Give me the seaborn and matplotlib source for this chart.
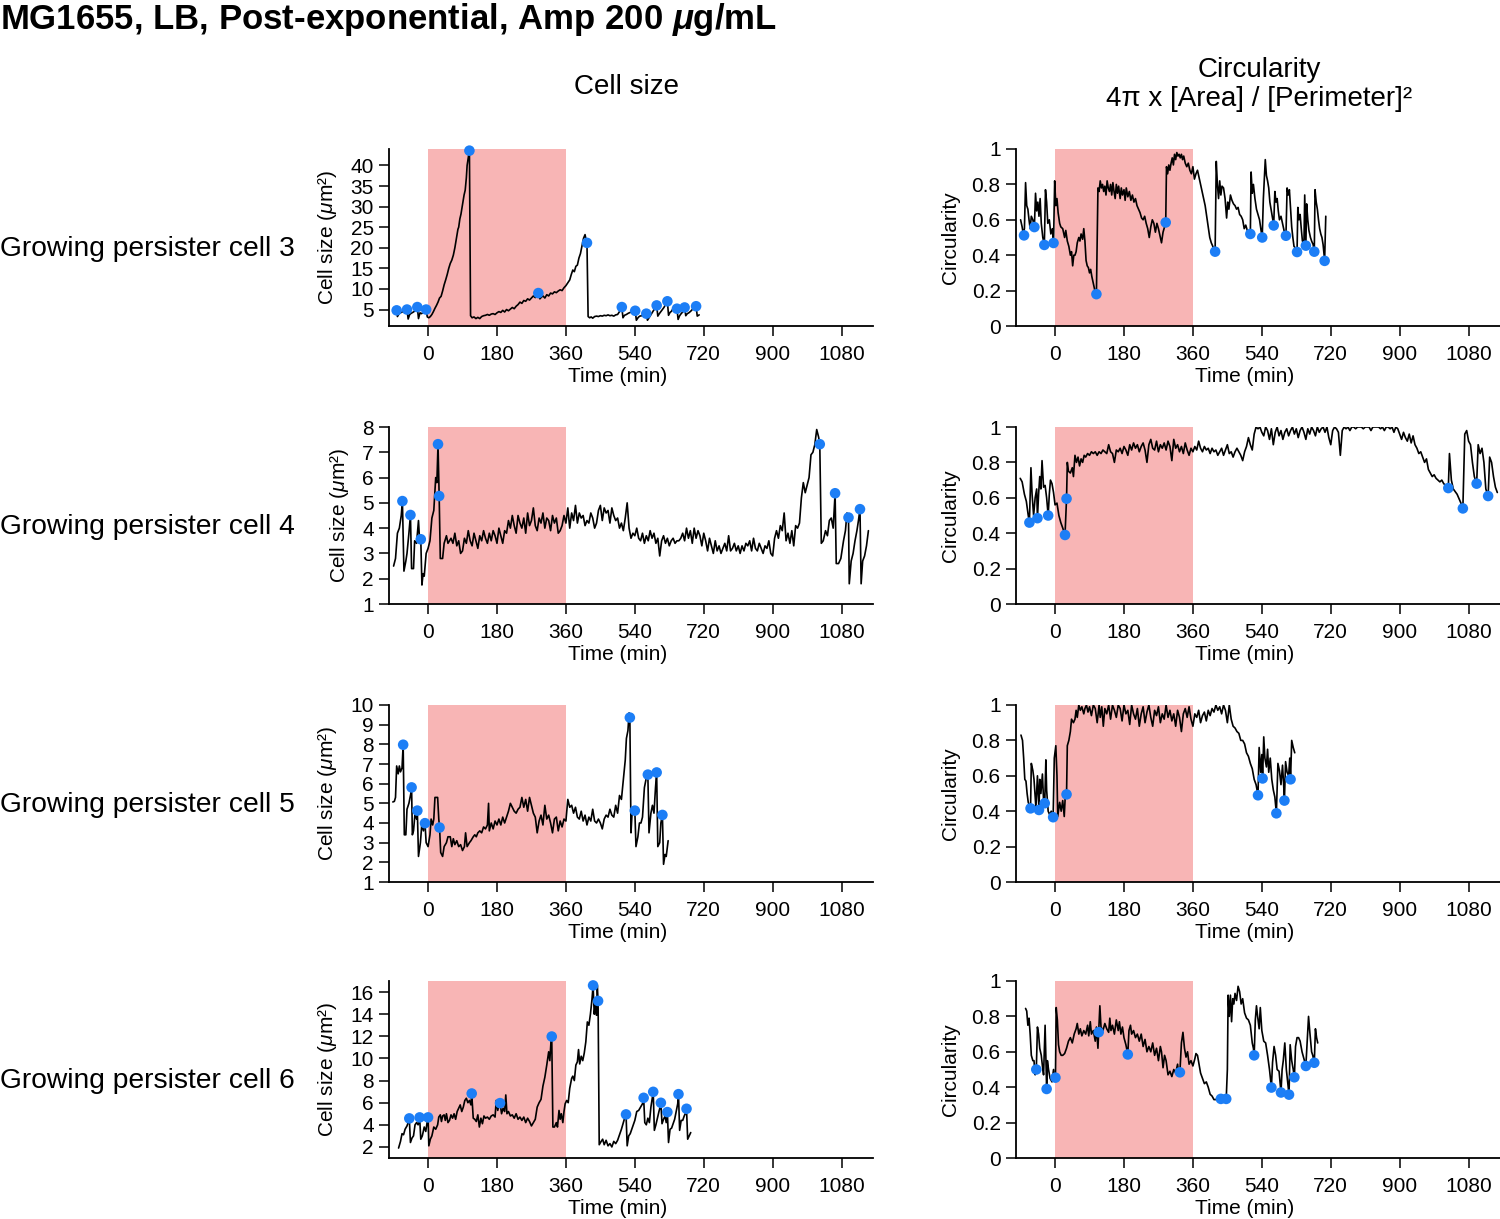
import pandas as pd
import numpy as np
import matplotlib
matplotlib.use("Agg")
import matplotlib.pyplot as plt
import seaborn as sns

# ---- data ----
amp_window = (0, 360)
time_ticks = [0, 180, 360, 540, 720, 900, 1080]
row_names = ["Growing persister cell 3", "Growing persister cell 4",
             "Growing persister cell 5", "Growing persister cell 6"]

size3 = [(-88, 4.4), (-85, 4.8), (-82, 4.8), (-80, 3.3), (-75, 4.1), (-70, 4.3), (-65, 4.5), (-60, 4.6),
         (-55, 5.0), (-52, 2.7), (-48, 3.8), (-44, 4.1), (-40, 4.3), (-35, 4.6), (-30, 5.1), (-28, 5.6),
         (-25, 2.8), (-21, 4.2), (-17, 4.0), (-13, 4.3), (-9, 4.6), (-5, 5.0), (-2, 3.2), (2, 3.0), (6, 3.3),
         (10, 3.8), (14, 4.5), (18, 5.3), (22, 6.0), (26, 6.8), (30, 7.8), (34, 8.2), (38, 9.5), (42, 11.0),
         (46, 12.2), (50, 13.5), (54, 15.0), (58, 16.2), (62, 17.0), (66, 18.2), (70, 20.0), (74, 22.3),
         (78, 24.5), (80, 25.0), (83, 27.0), (86, 28.2), (90, 30.5), (94, 32.8), (97, 34.0), (100, 37.0),
         (102, 40.0), (104, 41.3), (106, 42.5), (108, 43.6), (111, 3.5), (115, 3.0), (120, 3.2), (125, 2.8),
         (130, 3.1), (135, 2.8), (140, 3.3), (145, 3.5), (150, 3.6), (155, 3.8), (160, 3.6), (165, 3.9),
         (170, 4.0), (175, 3.8), (180, 4.2), (185, 4.5), (190, 4.3), (195, 4.8), (200, 4.4), (205, 5.0),
         (210, 4.7), (215, 5.1), (220, 5.5), (225, 5.2), (230, 5.8), (235, 6.2), (240, 6.8), (245, 6.5),
         (250, 7.2), (255, 7.0), (260, 7.6), (265, 7.3), (270, 7.8), (275, 8.3), (280, 7.9), (285, 8.5),
         (288, 9.0), (292, 7.6), (296, 8.0), (300, 8.3), (305, 7.8), (310, 8.6), (315, 8.3), (320, 9.0),
         (325, 8.8), (330, 9.3), (335, 9.1), (340, 9.5), (345, 9.8), (350, 9.6), (355, 10.3), (360, 10.8),
         (365, 11.5), (370, 12.2), (374, 13.5), (378, 14.6), (382, 14.2), (386, 15.5), (390, 15.8),
         (394, 17.5), (398, 18.6), (402, 20.5), (406, 22.3), (410, 23.2), (413, 21.8), (415, 21.2),
         (418, 3.3), (422, 3.0), (426, 3.2), (430, 2.9), (435, 3.3), (440, 3.4), (445, 3.3), (450, 3.5),
         (455, 3.4), (460, 3.6), (465, 3.5), (470, 3.7), (475, 3.5), (480, 3.6), (485, 3.4), (490, 3.7),
         (495, 3.8), (500, 4.5), (506, 5.6), (509, 3.0), (513, 3.6), (518, 3.8), (523, 4.1), (528, 4.3),
         (533, 4.5), (537, 4.7), (541, 4.7), (544, 2.4), (549, 3.1), (553, 3.4), (558, 3.5), (562, 3.8),
         (566, 4.0), (570, 4.0), (573, 2.4), (577, 3.0), (581, 3.6), (585, 4.2), (589, 4.8), (593, 5.3),
         (597, 6.0), (600, 3.4), (604, 4.0), (608, 4.5), (612, 5.0), (616, 5.5), (620, 6.2), (625, 7.0),
         (628, 3.6), (632, 4.3), (636, 4.6), (640, 5.3), (645, 5.0), (650, 5.2), (653, 2.6), (657, 3.5),
         (661, 4.0), (665, 4.4), (670, 5.5), (673, 3.5), (677, 4.0), (681, 4.2), (686, 4.6), (690, 5.0),
         (695, 5.5), (700, 5.8), (703, 3.4), (708, 3.7)]
size3_div = [(-82, 4.8), (-55, 5.0), (-28, 5.6), (-5, 5.0), (108, 43.6), (288, 9.0), (415, 21.2),
             (506, 5.6), (541, 4.7), (570, 4.0), (597, 6.0), (625, 7.0), (650, 5.2), (670, 5.5), (700, 5.8)]

circ3 = [(-90, 0.60), (-86, 0.56), (-83, 0.52), (-80, 0.55), (-77, 0.81), (-74, 0.68), (-71, 0.66),
         (-68, 0.60), (-65, 0.55), (-62, 0.62), (-58, 0.60), (-54, 0.56), (-51, 0.75), (-48, 0.65),
         (-45, 0.70), (-42, 0.62), (-39, 0.72), (-36, 0.58), (-32, 0.50), (-28, 0.46), (-25, 0.77),
         (-22, 0.70), (-19, 0.58), (-15, 0.60), (-11, 0.52), (-7, 0.55), (-4, 0.47), (-1, 0.82), (2, 0.68),
         (5, 0.72), (8, 0.64), (12, 0.58), (15, 0.56), (20, 0.55), (25, 0.50), (28, 0.54), (32, 0.48),
         (36, 0.45), (40, 0.40), (43, 0.42), (46, 0.34), (49, 0.40), (52, 0.40), (55, 0.42), (58, 0.47),
         (62, 0.50), (65, 0.48), (68, 0.52), (72, 0.49), (75, 0.55), (78, 0.48), (81, 0.37), (84, 0.34),
         (87, 0.33), (90, 0.30), (93, 0.32), (96, 0.28), (100, 0.24), (104, 0.20), (108, 0.18), (110, 0.46),
         (112, 0.78), (115, 0.76), (118, 0.82), (121, 0.78), (124, 0.80), (127, 0.76), (130, 0.79),
         (133, 0.74), (136, 0.82), (139, 0.78), (142, 0.76), (145, 0.80), (148, 0.74), (151, 0.81),
         (154, 0.76), (157, 0.72), (160, 0.80), (163, 0.75), (166, 0.79), (170, 0.72), (173, 0.78),
         (176, 0.74), (180, 0.77), (183, 0.71), (186, 0.78), (190, 0.73), (194, 0.76), (198, 0.71),
         (202, 0.74), (206, 0.70), (210, 0.72), (214, 0.68), (218, 0.66), (222, 0.64), (226, 0.61),
         (230, 0.60), (234, 0.62), (238, 0.58), (242, 0.55), (246, 0.50), (250, 0.56), (254, 0.60),
         (258, 0.58), (262, 0.53), (266, 0.58), (270, 0.55), (274, 0.51), (278, 0.47), (282, 0.53),
         (286, 0.56), (289, 0.585), (291, 0.90), (294, 0.86), (297, 0.91), (300, 0.88), (303, 0.92),
         (306, 0.95), (309, 0.91), (312, 0.97), (315, 0.94), (318, 0.98), (321, 0.96), (324, 0.97),
         (327, 0.95), (330, 0.97), (333, 0.94), (336, 0.96), (340, 0.92), (344, 0.90), (348, 0.92),
         (352, 0.88), (356, 0.86), (360, 0.90), (364, 0.83), (368, 0.86), (372, 0.88), (376, 0.84),
         (380, 0.80), (384, 0.76), (388, 0.72), (392, 0.68), (396, 0.62), (400, 0.56), (404, 0.50),
         (408, 0.47), (412, 0.45), (415, 0.43), (418, 0.42), (421, 0.93), (424, 0.80), (427, 0.72),
         (430, 0.82), (433, 0.74), (436, 0.79), (440, 0.78), (444, 0.72), (448, 0.61), (451, 0.70),
         (454, 0.66), (458, 0.74), (462, 0.71), (466, 0.69), (470, 0.68), (474, 0.66), (478, 0.67),
         (482, 0.63), (486, 0.62), (490, 0.60), (494, 0.55), (498, 0.57), (502, 0.54), (506, 0.53),
         (510, 0.52), (512, 0.87), (515, 0.75), (518, 0.80), (522, 0.72), (526, 0.66), (530, 0.63),
         (534, 0.60), (538, 0.54), (541, 0.50), (544, 0.72), (547, 0.86), (549, 0.94), (552, 0.85),
         (555, 0.82), (558, 0.78), (561, 0.70), (564, 0.66), (567, 0.62), (571, 0.57), (574, 0.76),
         (577, 0.70), (580, 0.72), (583, 0.65), (586, 0.60), (590, 0.62), (594, 0.58), (598, 0.54),
         (603, 0.51), (606, 0.78), (609, 0.74), (612, 0.77), (615, 0.66), (618, 0.56), (621, 0.50),
         (624, 0.45), (628, 0.44), (632, 0.42), (634, 0.67), (637, 0.60), (640, 0.63), (643, 0.55),
         (646, 0.48), (650, 0.47), (652, 0.74), (655, 0.45), (657, 0.69), (660, 0.60), (663, 0.54),
         (667, 0.50), (670, 0.48), (674, 0.46), (677, 0.42), (679, 0.77), (682, 0.70), (685, 0.66),
         (688, 0.60), (691, 0.55), (694, 0.52), (697, 0.50), (700, 0.46), (704, 0.37), (707, 0.62)]
circ3_div = [(-81, 0.512), (-54, 0.559), (-28, 0.458), (-4, 0.469), (108, 0.18), (289, 0.585),
             (418, 0.42), (510, 0.52), (541, 0.50), (571, 0.568), (603, 0.51), (632, 0.418),
             (655, 0.454), (677, 0.42), (704, 0.368)]

size4 = [(-90, 2.5), (-85, 2.8), (-80, 3.8), (-75, 4.0), (-70, 4.5), (-67, 5.07), (-63, 2.3), (-58, 2.7),
         (-55, 3.0), (-50, 3.8), (-46, 4.52), (-43, 2.4), (-38, 2.4), (-35, 3.5), (-30, 3.4), (-25, 4.3),
         (-22, 3.5), (-19, 3.56), (-16, 1.75), (-13, 2.2), (-10, 2.1), (-5, 3.0), (0, 3.2), (5, 3.5),
         (10, 4.4), (15, 4.7), (20, 6.0), (23, 5.8), (26, 7.32), (29, 5.27), (32, 2.8), (38, 2.8), (42, 3.4),
         (48, 3.7), (52, 3.4), (56, 3.5), (60, 3.6), (65, 3.4), (70, 3.8), (75, 3.3), (80, 3.5), (85, 3.0),
         (90, 3.1), (95, 3.6), (100, 3.4), (105, 3.9), (110, 3.5), (115, 3.3), (120, 3.8), (125, 3.5),
         (130, 3.2), (135, 3.7), (140, 3.5), (145, 3.9), (150, 3.6), (155, 3.4), (160, 3.8), (165, 3.5),
         (170, 3.9), (175, 3.7), (180, 3.4), (185, 4.0), (190, 3.7), (195, 3.4), (200, 3.9), (205, 3.8),
         (210, 4.3), (215, 4.0), (220, 4.5), (225, 4.1), (230, 3.8), (235, 4.5), (240, 4.2), (245, 4.0),
         (250, 4.4), (255, 3.8), (260, 4.6), (265, 4.1), (270, 4.3), (275, 4.8), (280, 4.1), (285, 3.9),
         (290, 4.4), (295, 4.2), (300, 4.6), (305, 4.0), (310, 4.4), (315, 4.3), (320, 3.9), (325, 4.5),
         (330, 4.2), (335, 4.4), (340, 3.8), (345, 3.9), (350, 4.1), (355, 4.5), (360, 4.2), (365, 4.8),
         (370, 4.0), (375, 4.6), (380, 4.3), (385, 4.9), (390, 4.2), (395, 4.6), (400, 4.4), (405, 4.5),
         (410, 4.1), (415, 4.3), (420, 4.2), (425, 4.6), (430, 4.4), (435, 4.0), (440, 4.2), (445, 4.7),
         (450, 4.9), (455, 4.3), (460, 4.8), (465, 4.6), (470, 4.7), (475, 4.2), (480, 4.8), (485, 4.5),
         (490, 4.3), (495, 4.4), (500, 4.0), (505, 4.2), (510, 3.9), (515, 4.4), (520, 5.0), (525, 4.0),
         (530, 3.6), (535, 3.8), (540, 3.7), (545, 4.0), (550, 3.6), (555, 3.5), (560, 3.8), (565, 3.4),
         (570, 3.7), (575, 3.5), (580, 3.9), (585, 3.6), (590, 3.8), (595, 3.4), (600, 3.6), (605, 2.9),
         (610, 3.5), (615, 3.7), (620, 3.4), (625, 3.6), (630, 3.3), (635, 3.5), (640, 3.6), (645, 3.4),
         (650, 3.5), (655, 3.5), (660, 3.6), (665, 3.8), (670, 3.5), (675, 4.0), (680, 3.6), (685, 3.9),
         (690, 3.4), (695, 4.0), (700, 3.6), (705, 3.9), (710, 3.7), (715, 3.3), (720, 3.8), (725, 3.5),
         (730, 3.1), (735, 3.6), (740, 3.3), (745, 3.0), (750, 3.5), (755, 3.1), (760, 3.3), (765, 3.0),
         (770, 3.2), (775, 3.4), (780, 3.1), (785, 3.7), (790, 3.1), (795, 3.2), (800, 3.4), (805, 3.1),
         (810, 3.3), (815, 3.0), (820, 3.3), (825, 3.1), (830, 3.4), (835, 3.3), (840, 3.5), (845, 3.1),
         (850, 3.6), (855, 3.2), (860, 3.1), (865, 3.4), (870, 3.2), (875, 3.0), (880, 3.3), (885, 3.2),
         (890, 3.5), (895, 3.0), (900, 2.9), (905, 3.6), (910, 3.9), (915, 3.6), (920, 4.1), (925, 3.9),
         (930, 4.6), (935, 3.5), (940, 3.8), (945, 3.4), (950, 3.9), (955, 3.3), (960, 4.1), (965, 4.0),
         (970, 4.2), (975, 5.2), (980, 5.8), (985, 5.4), (990, 5.7), (995, 6.0), (1000, 6.9), (1005, 7.0),
         (1010, 7.3), (1015, 7.9), (1020, 7.6), (1023, 7.32), (1027, 3.4), (1032, 3.5), (1038, 3.9),
         (1043, 3.7), (1048, 4.3), (1053, 4.4), (1058, 4.0), (1063, 5.38), (1066, 2.6), (1072, 2.6),
         (1078, 2.8), (1085, 3.5), (1090, 3.9), (1094, 4.6), (1098, 4.42), (1100, 1.8), (1105, 2.7),
         (1110, 3.0), (1115, 3.5), (1120, 3.9), (1124, 4.3), (1128, 4.75), (1131, 1.8), (1135, 2.7),
         (1140, 2.9), (1145, 3.3), (1150, 3.9)]
size4_div = [(-67, 5.07), (-46, 4.52), (-19, 3.56), (26, 7.32), (29, 5.27), (1023, 7.32), (1063, 5.38),
             (1098, 4.42), (1128, 4.75)]

circ4 = [(-91, 0.71), (-86, 0.69), (-80, 0.62), (-75, 0.58), (-70, 0.50), (-67, 0.46), (-63, 0.77),
         (-60, 0.62), (-56, 0.50), (-52, 0.60), (-48, 0.65), (-46, 0.485), (-43, 0.62), (-40, 0.72),
         (-37, 0.65), (-34, 0.81), (-30, 0.66), (-26, 0.67), (-22, 0.60), (-18, 0.50), (-15, 0.62),
         (-12, 0.70), (-8, 0.68), (-4, 0.63), (0, 0.56), (5, 0.57), (10, 0.50), (15, 0.46), (20, 0.43),
         (26, 0.39), (30, 0.595), (32, 0.80), (35, 0.75), (40, 0.74), (45, 0.77), (48, 0.72), (52, 0.84),
         (56, 0.80), (60, 0.83), (64, 0.78), (68, 0.82), (72, 0.80), (76, 0.84), (80, 0.83), (85, 0.85),
         (90, 0.84), (95, 0.86), (100, 0.85), (105, 0.86), (110, 0.84), (115, 0.86), (120, 0.85),
         (125, 0.87), (130, 0.86), (135, 0.85), (140, 0.90), (145, 0.86), (150, 0.85), (155, 0.80),
         (160, 0.87), (165, 0.86), (170, 0.88), (175, 0.85), (180, 0.89), (185, 0.87), (190, 0.84),
         (195, 0.90), (200, 0.87), (205, 0.91), (210, 0.88), (215, 0.90), (220, 0.86), (225, 0.89),
         (230, 0.91), (235, 0.87), (240, 0.80), (245, 0.90), (250, 0.93), (255, 0.88), (260, 0.87),
         (265, 0.92), (270, 0.86), (275, 0.90), (280, 0.88), (285, 0.91), (290, 0.87), (295, 0.92),
         (300, 0.89), (305, 0.81), (310, 0.93), (315, 0.88), (320, 0.90), (325, 0.86), (330, 0.89),
         (335, 0.85), (340, 0.91), (345, 0.87), (350, 0.84), (355, 0.88), (360, 0.86), (365, 0.89),
         (370, 0.87), (375, 0.92), (380, 0.88), (385, 0.86), (390, 0.89), (395, 0.87), (400, 0.88),
         (405, 0.85), (410, 0.88), (415, 0.86), (420, 0.87), (425, 0.84), (430, 0.86), (435, 0.88),
         (440, 0.84), (445, 0.87), (450, 0.90), (455, 0.85), (460, 0.86), (465, 0.83), (470, 0.86),
         (475, 0.88), (480, 0.86), (485, 0.84), (490, 0.81), (495, 0.86), (500, 0.89), (505, 0.94),
         (510, 0.90), (515, 0.87), (520, 0.96), (525, 1.00), (530, 0.99), (535, 1.00), (540, 0.97),
         (545, 0.95), (550, 1.00), (555, 0.98), (560, 0.93), (565, 0.99), (570, 0.90), (575, 0.97),
         (580, 1.00), (585, 0.95), (590, 0.98), (595, 0.93), (600, 0.97), (605, 0.99), (610, 0.95),
         (615, 0.98), (620, 1.00), (625, 0.96), (630, 0.99), (635, 0.94), (640, 0.98), (645, 1.00),
         (650, 0.97), (655, 0.93), (660, 0.99), (665, 0.96), (670, 1.00), (675, 0.98), (680, 0.95),
         (685, 1.00), (690, 0.97), (695, 0.99), (700, 1.00), (705, 0.97), (710, 1.00), (715, 0.94),
         (720, 0.90), (725, 0.98), (730, 1.00), (735, 0.99), (740, 0.97), (745, 0.84), (750, 0.98),
         (755, 1.00), (760, 0.99), (765, 1.00), (770, 0.98), (775, 1.00), (780, 1.00), (785, 0.99),
         (790, 1.00), (795, 1.00), (800, 1.00), (805, 0.99), (810, 1.00), (815, 1.00), (820, 1.00),
         (825, 0.98), (830, 1.00), (835, 1.00), (840, 1.00), (845, 1.00), (850, 0.99), (855, 1.00),
         (860, 0.98), (865, 1.00), (870, 1.00), (875, 0.99), (880, 1.00), (885, 0.97), (890, 1.00),
         (895, 0.99), (900, 0.96), (905, 0.93), (910, 0.97), (915, 0.94), (920, 0.92), (925, 0.96),
         (930, 0.91), (935, 0.95), (940, 0.90), (945, 0.88), (950, 0.85), (955, 0.86), (960, 0.83),
         (965, 0.80), (970, 0.82), (975, 0.76), (980, 0.74), (985, 0.72), (990, 0.73), (995, 0.71),
         (1000, 0.70), (1005, 0.69), (1010, 0.70), (1015, 0.68), (1020, 0.67), (1027, 0.655), (1030, 0.85),
         (1035, 0.70), (1040, 0.65), (1050, 0.62), (1060, 0.57), (1065, 0.54), (1070, 0.96), (1075, 0.98),
         (1080, 0.92), (1085, 0.90), (1090, 0.80), (1095, 0.72), (1101, 0.68), (1105, 0.90), (1110, 0.85),
         (1115, 0.88), (1120, 0.80), (1125, 0.65), (1131, 0.61), (1135, 0.83), (1140, 0.80), (1145, 0.72),
         (1150, 0.66), (1155, 0.63)]
circ4_div = [(-67, 0.46), (-46, 0.485), (-18, 0.50), (26, 0.39), (30, 0.595), (1027, 0.655),
             (1065, 0.54), (1101, 0.68), (1131, 0.61)]

size5 = [(-92, 5.07), (-88, 5.1), (-85, 5.3), (-82, 6.9), (-78, 6.5), (-75, 6.9), (-72, 6.6), (-68, 6.8),
         (-65, 7.98), (-62, 3.4), (-58, 3.4), (-55, 4.7), (-50, 5.0), (-45, 5.5), (-43, 5.81), (-41, 3.4),
         (-38, 3.6), (-34, 4.5), (-30, 4.2), (-28, 4.63), (-25, 2.3), (-20, 3.0), (-16, 4.0), (-12, 3.6),
         (-10, 4.2), (-8, 3.99), (-5, 3.0), (0, 2.8), (5, 3.4), (8, 4.2), (12, 3.9), (15, 4.2), (18, 5.3),
         (25, 5.3), (28, 4.2), (30, 3.77), (33, 2.5), (38, 2.3), (42, 2.8), (48, 3.0), (52, 3.3), (58, 3.3),
         (62, 2.8), (66, 3.2), (70, 2.9), (75, 3.1), (80, 2.8), (85, 2.9), (90, 2.6), (95, 2.8), (98, 3.5),
         (102, 2.8), (108, 3.0), (112, 3.1), (118, 3.3), (122, 3.4), (126, 3.3), (130, 3.5), (135, 3.6),
         (140, 3.5), (145, 3.8), (150, 3.7), (155, 3.9), (158, 5.0), (160, 3.6), (165, 4.0), (170, 3.7),
         (175, 4.1), (180, 3.9), (185, 4.2), (190, 3.9), (195, 4.3), (200, 4.0), (205, 4.3), (210, 4.6),
         (215, 5.0), (220, 4.8), (225, 4.6), (230, 4.5), (235, 4.7), (240, 4.8), (245, 5.3), (250, 4.8),
         (255, 5.2), (260, 4.6), (265, 5.3), (270, 4.9), (275, 4.5), (280, 4.3), (285, 3.5), (290, 4.1),
         (295, 4.4), (300, 3.9), (305, 4.9), (310, 4.2), (315, 4.4), (320, 4.0), (325, 3.5), (330, 4.2),
         (335, 4.3), (340, 3.6), (345, 4.1), (350, 3.8), (355, 4.2), (360, 4.1), (365, 5.2), (370, 4.8),
         (375, 4.9), (380, 4.5), (385, 4.8), (390, 4.3), (395, 4.2), (400, 4.6), (405, 4.1), (410, 4.4),
         (415, 3.9), (420, 4.3), (425, 4.1), (430, 4.7), (435, 4.1), (440, 4.0), (445, 4.2), (450, 4.0),
         (455, 3.7), (460, 4.2), (465, 4.4), (470, 4.3), (475, 4.7), (480, 4.4), (485, 4.3), (490, 4.9),
         (495, 4.5), (500, 5.4), (505, 5.2), (510, 6.2), (515, 7.2), (518, 8.3), (522, 8.7), (525, 9.6),
         (527, 9.36), (530, 3.5), (533, 4.6), (537, 4.5), (540, 4.63), (543, 2.8), (548, 3.3), (552, 4.0),
         (556, 4.0), (560, 4.3), (565, 5.8), (570, 6.3), (574, 6.46), (577, 3.5), (582, 4.5), (586, 4.9),
         (590, 4.5), (594, 5.8), (597, 6.57), (600, 2.8), (605, 3.0), (608, 4.0), (612, 4.41), (615, 1.9),
         (619, 2.4), (622, 2.3), (627, 3.1)]
size5_div = [(-65, 7.98), (-43, 5.81), (-28, 4.63), (-8, 3.99), (30, 3.77), (527, 9.36), (540, 4.63),
             (574, 6.46), (597, 6.57), (612, 4.41)]

circ5 = [(-89, 0.83), (-85, 0.80), (-82, 0.70), (-79, 0.58), (-76, 0.57), (-73, 0.50), (-70, 0.45),
         (-64, 0.416), (-62, 0.67), (-58, 0.63), (-55, 0.58), (-50, 0.42), (-46, 0.60), (-42, 0.407),
         (-40, 0.58), (-37, 0.50), (-33, 0.61), (-30, 0.46), (-27, 0.445), (-24, 0.69), (-22, 0.52),
         (-18, 0.40), (-14, 0.38), (-10, 0.40), (-5, 0.366), (-2, 0.70), (2, 0.77), (5, 0.60), (7, 0.37),
         (12, 0.45), (16, 0.40), (20, 0.46), (24, 0.37), (27, 0.50), (30, 0.495), (32, 0.77), (36, 0.80),
         (40, 0.85), (43, 0.92), (48, 0.90), (52, 0.92), (55, 0.97), (58, 0.93), (62, 1.0), (66, 0.97),
         (70, 0.99), (75, 0.95), (78, 0.98), (82, 1.0), (86, 0.96), (90, 0.99), (95, 0.94), (100, 1.0),
         (105, 0.98), (110, 0.90), (115, 1.0), (118, 0.93), (122, 0.99), (126, 0.88), (130, 0.98),
         (135, 0.95), (140, 1.0), (145, 0.92), (150, 1.0), (155, 0.97), (160, 0.93), (165, 1.0),
         (170, 0.98), (175, 0.91), (180, 1.0), (185, 0.95), (190, 0.97), (195, 0.89), (200, 1.0),
         (205, 0.95), (210, 0.92), (215, 0.98), (220, 0.88), (225, 0.95), (230, 0.99), (235, 0.90),
         (240, 0.96), (245, 1.0), (250, 0.93), (255, 0.88), (260, 0.97), (265, 0.94), (270, 0.99),
         (275, 0.90), (280, 0.95), (285, 0.92), (290, 1.0), (295, 0.93), (300, 0.97), (305, 0.91),
         (310, 0.95), (315, 0.88), (320, 0.97), (325, 0.93), (330, 0.85), (335, 0.95), (340, 0.98),
         (345, 0.93), (350, 0.99), (355, 0.92), (360, 0.88), (365, 0.95), (370, 0.93), (375, 0.97),
         (380, 0.90), (385, 0.94), (390, 0.96), (395, 0.91), (400, 0.97), (405, 0.94), (410, 0.98),
         (415, 0.96), (420, 1.0), (425, 0.97), (430, 0.99), (435, 0.95), (440, 1.0), (445, 0.97),
         (450, 0.90), (455, 1.0), (460, 0.92), (465, 0.88), (470, 0.87), (475, 0.85), (480, 0.84),
         (485, 0.80), (490, 0.80), (495, 0.78), (500, 0.73), (505, 0.71), (510, 0.67), (515, 0.64),
         (520, 0.58), (525, 0.55), (530, 0.49), (533, 0.76), (537, 0.62), (540, 0.72), (542, 0.585),
         (545, 0.82), (548, 0.70), (552, 0.65), (555, 0.75), (558, 0.62), (562, 0.70), (566, 0.58),
         (570, 0.52), (574, 0.48), (578, 0.388), (582, 0.67), (586, 0.63), (590, 0.55), (594, 0.66),
         (597, 0.55), (599, 0.46), (602, 0.68), (606, 0.62), (610, 0.60), (613, 0.70), (615, 0.58),
         (618, 0.80), (622, 0.76), (626, 0.73)]
circ5_div = [(-64, 0.416), (-42, 0.407), (-27, 0.445), (-5, 0.366), (30, 0.495), (530, 0.49),
             (542, 0.585), (578, 0.388), (599, 0.46), (615, 0.58)]

size6 = [(-77, 1.9), (-72, 2.5), (-68, 3.2), (-64, 3.1), (-60, 3.6), (-55, 3.9), (-52, 4.2), (-49, 4.58),
         (-46, 2.4), (-42, 2.8), (-38, 3.0), (-34, 4.0), (-30, 4.2), (-26, 4.0), (-22, 4.67), (-19, 2.7),
         (-15, 3.0), (-10, 3.8), (-6, 3.4), (-3, 4.1), (0, 4.67), (2, 2.1), (6, 2.7), (10, 3.0), (15, 3.8),
         (20, 3.6), (25, 4.0), (28, 4.7), (32, 4.9), (35, 4.3), (38, 4.8), (42, 4.9), (45, 4.4), (48, 5.0),
         (52, 4.2), (56, 4.4), (60, 4.9), (64, 4.6), (68, 5.0), (72, 4.5), (76, 5.2), (80, 5.5), (84, 5.8),
         (88, 5.2), (92, 5.6), (96, 6.2), (100, 6.4), (104, 6.0), (108, 6.2), (112, 5.8), (114, 6.83),
         (118, 4.6), (122, 4.5), (126, 4.3), (130, 4.9), (134, 3.8), (138, 4.6), (142, 4.1), (146, 4.8),
         (150, 4.6), (155, 4.7), (160, 4.5), (165, 4.8), (170, 4.9), (175, 4.7), (178, 6.2), (182, 5.3),
         (185, 5.8), (188, 5.96), (192, 5.0), (196, 5.5), (200, 5.2), (203, 6.7), (206, 5.0), (210, 5.2),
         (215, 4.8), (220, 4.9), (225, 4.6), (230, 5.0), (235, 4.5), (240, 4.7), (245, 4.4), (250, 4.7),
         (255, 4.2), (260, 4.6), (265, 4.3), (270, 3.9), (275, 4.2), (280, 4.5), (285, 5.6), (290, 6.0),
         (295, 6.3), (300, 7.5), (305, 8.3), (310, 9.4), (315, 10.6), (318, 9.8), (321, 11.5),
         (323, 11.98), (326, 3.8), (330, 3.8), (335, 4.2), (338, 3.8), (342, 5.3), (345, 4.5), (348, 5.0),
         (352, 4.2), (355, 5.2), (358, 5.9), (362, 6.2), (366, 6.0), (370, 7.3), (375, 8.2), (378, 8.4),
         (382, 8.0), (386, 9.4), (390, 9.7), (393, 10.8), (396, 9.5), (400, 10.2), (404, 9.8), (408, 10.5),
         (412, 11.5), (416, 13.3), (420, 13.0), (424, 14.0), (428, 15.3), (431, 16.6), (434, 14.0),
         (437, 14.9), (440, 13.9), (442, 16.6), (444, 15.2), (447, 2.2), (452, 2.5), (456, 2.7), (460, 2.2),
         (465, 2.6), (470, 2.1), (475, 2.3), (480, 2.0), (485, 2.5), (490, 2.3), (495, 2.6), (500, 3.1),
         (505, 3.6), (510, 4.2), (515, 4.8), (517, 4.94), (520, 2.1), (524, 3.0), (528, 3.2), (532, 3.6),
         (536, 4.0), (540, 4.4), (545, 5.2), (550, 5.3), (555, 5.6), (560, 5.9), (563, 6.44), (566, 4.2),
         (570, 4.0), (574, 4.6), (578, 4.2), (582, 5.6), (586, 6.5), (588, 6.98), (591, 3.5), (595, 4.0),
         (599, 4.6), (603, 5.2), (606, 5.6), (608, 5.99), (611, 4.1), (615, 4.5), (619, 4.8), (622, 4.2),
         (625, 5.15), (628, 2.4), (632, 3.6), (636, 3.7), (640, 4.1), (644, 4.5), (648, 5.2), (652, 5.9),
         (654, 6.77), (657, 3.5), (661, 4.4), (665, 4.4), (669, 4.8), (673, 5.1), (675, 5.45), (678, 2.7),
         (682, 3.0), (686, 3.3)]
size6_div = [(-49, 4.58), (-22, 4.67), (0, 4.67), (114, 6.83), (188, 5.96), (323, 11.98), (431, 16.6),
             (444, 15.2), (517, 4.94), (563, 6.44), (588, 6.98), (608, 5.99), (625, 5.15), (654, 6.77),
             (675, 5.45)]

circ6 = [(-77, 0.845), (-74, 0.83), (-71, 0.75), (-68, 0.79), (-65, 0.70), (-62, 0.58), (-58, 0.55),
         (-55, 0.55), (-52, 0.47), (-49, 0.50), (-46, 0.74), (-43, 0.70), (-40, 0.62), (-36, 0.58),
         (-33, 0.52), (-30, 0.47), (-26, 0.75), (-22, 0.39), (-20, 0.55), (-17, 0.50), (-13, 0.45),
         (-8, 0.43), (-4, 0.50), (-2, 0.44), (1, 0.454), (3, 0.85), (6, 0.78), (9, 0.64), (12, 0.60),
         (16, 0.58), (20, 0.58), (25, 0.59), (30, 0.62), (35, 0.66), (40, 0.68), (45, 0.65), (50, 0.70),
         (55, 0.73), (58, 0.76), (62, 0.70), (66, 0.73), (70, 0.69), (75, 0.72), (80, 0.70), (85, 0.75),
         (88, 0.69), (92, 0.77), (95, 0.70), (100, 0.72), (105, 0.66), (108, 0.74), (112, 0.62),
         (114, 0.711), (117, 0.86), (120, 0.74), (125, 0.72), (130, 0.76), (135, 0.73), (140, 0.71),
         (143, 0.79), (146, 0.72), (150, 0.75), (155, 0.70), (160, 0.78), (165, 0.72), (168, 0.77),
         (172, 0.70), (176, 0.74), (180, 0.68), (185, 0.64), (190, 0.585), (193, 0.72), (197, 0.75),
         (200, 0.70), (205, 0.72), (210, 0.68), (215, 0.70), (220, 0.66), (225, 0.70), (230, 0.63),
         (235, 0.67), (240, 0.60), (245, 0.63), (250, 0.60), (255, 0.65), (260, 0.58), (265, 0.62),
         (270, 0.55), (275, 0.63), (278, 0.60), (282, 0.51), (286, 0.58), (290, 0.55), (295, 0.47),
         (300, 0.49), (305, 0.46), (310, 0.50), (315, 0.48), (320, 0.53), (323, 0.47), (326, 0.484),
         (330, 0.65), (334, 0.71), (338, 0.62), (342, 0.57), (346, 0.60), (350, 0.53), (355, 0.55),
         (360, 0.52), (365, 0.56), (368, 0.59), (372, 0.58), (376, 0.53), (380, 0.48), (385, 0.45),
         (390, 0.42), (395, 0.43), (400, 0.40), (405, 0.36), (410, 0.35), (415, 0.33), (420, 0.33),
         (425, 0.34), (430, 0.33), (433, 0.334), (437, 0.33), (441, 0.34), (444, 0.33), (447, 0.334),
         (450, 0.50), (452, 0.92), (455, 0.80), (458, 0.92), (461, 0.77), (464, 0.90), (467, 0.87),
         (470, 0.93), (474, 0.89), (478, 0.97), (482, 0.94), (486, 0.87), (490, 0.90), (495, 0.82),
         (500, 0.79), (505, 0.78), (510, 0.75), (515, 0.65), (518, 0.62), (520, 0.58), (523, 0.78),
         (526, 0.86), (529, 0.80), (533, 0.73), (536, 0.85), (540, 0.72), (545, 0.66), (550, 0.65),
         (555, 0.58), (560, 0.50), (565, 0.398), (568, 0.54), (572, 0.63), (576, 0.58), (580, 0.50),
         (585, 0.49), (590, 0.37), (593, 0.50), (596, 0.55), (600, 0.65), (604, 0.50), (608, 0.42),
         (611, 0.358), (614, 0.64), (618, 0.55), (622, 0.50), (625, 0.456), (628, 0.63), (632, 0.68),
         (636, 0.68), (640, 0.66), (645, 0.60), (650, 0.56), (655, 0.52), (658, 0.64), (662, 0.80),
         (665, 0.72), (670, 0.60), (673, 0.58), (677, 0.538), (680, 0.73), (683, 0.68), (686, 0.65)]
circ6_div = [(-49, 0.50), (-22, 0.39), (1, 0.454), (114, 0.711), (190, 0.585), (326, 0.484), (433, 0.334),
             (447, 0.334), (520, 0.58), (565, 0.398), (590, 0.37), (611, 0.358), (625, 0.456),
             (655, 0.52), (677, 0.538)]

size_traces = [size3, size4, size5, size6]
size_divs = [size3_div, size4_div, size5_div, size6_div]
circ_traces = [circ3, circ4, circ5, circ6]
circ_divs = [circ3_div, circ4_div, circ5_div, circ6_div]
size_ylims = [(1, 44), (1, 8), (1, 10), (1, 17)]
size_yticks = [[5, 10, 15, 20, 25, 30, 35, 40], [1, 2, 3, 4, 5, 6, 7, 8],
               [1, 2, 3, 4, 5, 6, 7, 8, 9, 10], [2, 4, 6, 8, 10, 12, 14, 16]]
circ_yticks = [0, 0.2, 0.4, 0.6, 0.8, 1]
circ_ticklabels = ["0", "0.2", "0.4", "0.6", "0.8", "1"]

# ---- styling ----
sns.set_style("ticks")
plt.rcParams['font.family'] = ['Liberation Sans', 'DejaVu Sans']
plt.rcParams['mathtext.fontset'] = 'custom'
plt.rcParams['mathtext.rm'] = 'Liberation Sans'
plt.rcParams['mathtext.it'] = 'Liberation Sans:italic'
plt.rcParams['mathtext.bf'] = 'Liberation Sans:bold'
plt.rcParams['mathtext.bfit'] = 'Liberation Sans:bold:italic'
for key in ['text.color', 'axes.labelcolor', 'xtick.color', 'ytick.color', 'axes.edgecolor']:
    plt.rcParams[key] = 'black'

TRACE = 'black'
DOT = '#1c7ef6'
SHADE = '#f8b5b5'

fig = plt.figure(figsize=(15, 12.19), dpi=100)

row_bottoms = [1 - 326 / 1219, 1 - 604 / 1219, 1 - 882 / 1219, 1 - 1158 / 1219]
ax_h = 177 / 1219
col_lefts = [389 / 1500, 1016 / 1500]
ax_w = 484 / 1500


def draw_panel(ax, trace, divs, ylim, yticks, ylabel, yticklabels=None):
    ax.axvspan(amp_window[0], amp_window[1], color=SHADE, lw=0, zorder=0)
    df = pd.DataFrame(trace, columns=['t', 'v'])
    dd = pd.DataFrame(divs, columns=['t', 'v'])
    sns.lineplot(data=df, x='t', y='v', ax=ax, color=TRACE, lw=1.2,
                 estimator=None, sort=False, zorder=2)
    sns.scatterplot(data=dd, x='t', y='v', ax=ax, color=DOT, s=58,
                    edgecolor='none', zorder=3, clip_on=False)
    ax.set_xlim(-102, 1162)
    ax.set_ylim(*ylim)
    ax.set_xticks(time_ticks)
    ax.set_yticks(yticks)
    if yticklabels is not None:
        ax.set_yticklabels(yticklabels)
    ax.set_xlabel("Time (min)", fontsize=15, labelpad=2)
    ax.xaxis.label.set_x(0.473)
    ax.set_ylabel(ylabel, fontsize=15, labelpad=8)
    ax.tick_params(direction='out', length=7, width=1.1, labelsize=15)
    ax.tick_params(axis='x', pad=7)
    ax.tick_params(axis='y', pad=4)
    for s in ['left', 'bottom']:
        ax.spines[s].set_linewidth(1.3)
    sns.despine(ax=ax)
    ax.patch.set_alpha(0)


for i in range(4):
    axl = fig.add_axes([col_lefts[0], row_bottoms[i], ax_w, ax_h])
    draw_panel(axl, size_traces[i], size_divs[i], size_ylims[i], size_yticks[i],
               r"Cell size ($\mu$m²)")
    axr = fig.add_axes([col_lefts[1], row_bottoms[i], ax_w, ax_h])
    draw_panel(axr, circ_traces[i], circ_divs[i], (0, 1), circ_yticks,
               "Circularity", circ_ticklabels)
    fig.text(0.0, row_bottoms[i] + ax_h / 2 - 11 / 1219, row_names[i],
             fontsize=20.3, ha='left', va='center')

fig.text(0.0, 0.999, r"MG1655, LB, Post-exponential, Amp 200 $\mathbfit{\mu}$g/mL",
         fontsize=25, fontweight='bold', ha='left', va='top')
fig.text(627 / 1500, 1 - 87 / 1219, "Cell size", fontsize=20, ha='center', va='center')
fig.text(1259 / 1500, 1 - 70 / 1219, "Circularity", fontsize=20, ha='center', va='center')
fig.text(1259 / 1500, 1 - 99 / 1219, "4π x [Area] / [Perimeter]²", fontsize=20,
         ha='center', va='center')

plt.savefig("out.png", dpi=100)
